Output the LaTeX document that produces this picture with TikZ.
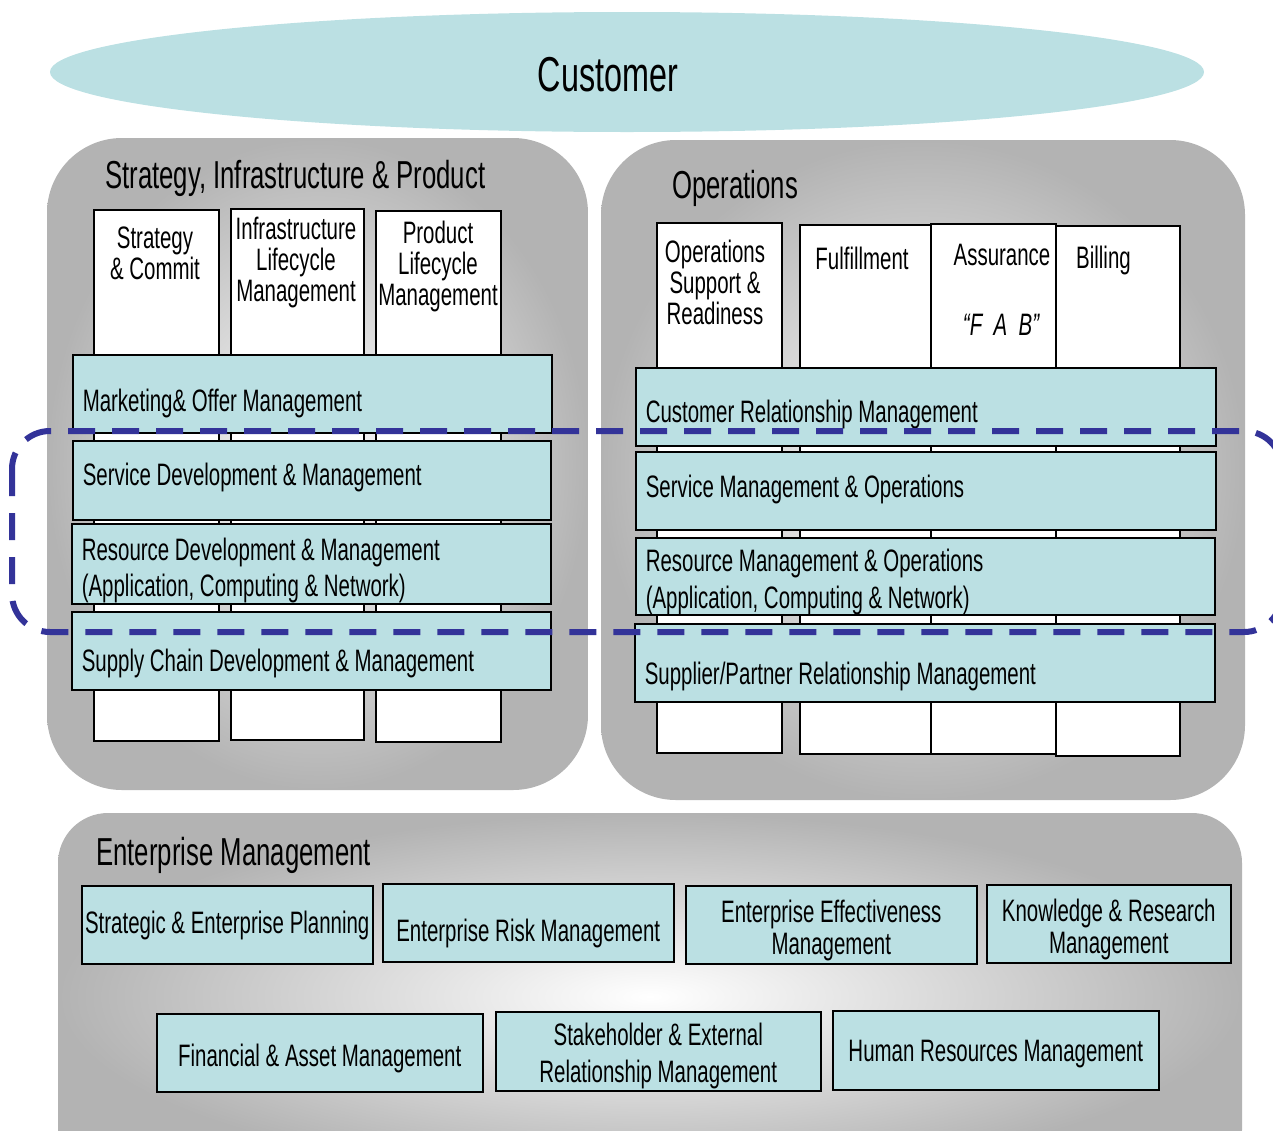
\documentclass[tikz,border=0pt]{standalone}
\usepackage{fontspec}
\setmainfont[FakeStretch=0.66]{Liberation Sans}
\usetikzlibrary{shapes.geometric}
\definecolor{tamcyan}{HTML}{BBE0E3}
\definecolor{tamblue}{HTML}{333399}
\definecolor{tamgray}{HTML}{B3B3B3}

\begin{document}
\begin{tikzpicture}[x=1pt,y=-1pt,
  panel/.style={rounded corners=#1,inner color=white,outer color=tamgray},
  panel/.default=75pt,
  paneltitle/.style={anchor=base west,inner sep=0pt,font=\fontsize{39}{39}\selectfont},
  col/.style={draw,line width=1.5pt,fill=white,anchor=north west,inner sep=0pt},
  col text/.style={anchor=north,align=center,inner sep=0pt,font=\fontsize{31}{31}\selectfont},
  bar/.style={draw,line width=1.5pt,fill=tamcyan,anchor=north west,align=flush left,inner xsep=10pt,inner ysep=0pt,font=\fontsize{31}{36}\selectfont},
  ent box/.style={draw,line width=1.5pt,fill=tamcyan,anchor=north west,align=center,inner sep=0pt,font=\fontsize{31}{37}\selectfont}]

  \useasboundingbox (0,0) rectangle (1273,1130);
  \clip (0,0) rectangle (1273,1130);

  % customer on top
  \node[ellipse,fill=tamcyan,minimum width=1154pt,minimum height=120pt] (cust) at (627,72) {};
  \node[font=\fontsize{49}{49}\selectfont,inner sep=0pt] (cust-t) at (608,75) {Customer};

  % the three panels
  \path[panel] (47,138) rectangle (588,790);
  \path[panel] (601,140) rectangle (1245,800);
  \path[panel=50pt] (58,813) rectangle (1242,1180);

  \node[paneltitle] (sip) at (105,188) {Strategy, Infrastructure \& Product};
  \node[paneltitle] (ops) at (672,198) {Operations};
  \node[paneltitle] (ent) at (96,865) {Enterprise Management};

  % SIP columns
  \node[col,minimum width=125pt,minimum height=531pt] (sc) at (93,209) {};
  \node[col,minimum width=133pt,minimum height=531pt] (ilm) at (230,208) {};
  \node[col,minimum width=125pt,minimum height=531pt] (plm) at (375,210) {};

  \node[col text] (sc-t) at (155,227) {Strategy\\\& Commit};
  \node[col text] (ilm-t) at (296,217) {Infrastructure\\Lifecycle\\Management};
  \node[col text] (plm-t) at (438,221) {Product\\Lifecycle\\Management};

  % SIP bars
  \node[bar,text width=459pt,minimum height=78pt,text height=43pt,text depth=7pt] (mko) at (72,354) {Marketing\& Offer Management};
  \node[bar,text width=458pt,minimum height=79pt,text height=17pt,text depth=7pt] (sdm) at (72,440) {Service Development \& Management};
  \node[bar,text width=459pt,minimum height=80pt,text height=37pt,text depth=43pt] (rdm) at (71,523) {Resource Development \& Management\\(Application, Computing \& Network)};
  \node[bar,text width=459pt,minimum height=78pt,text height=49pt,text depth=7pt] (scd) at (71,611) {Supply Chain Development \& Management};

  % operations columns
  \node[col,minimum width=125pt,minimum height=530pt] (osr) at (656,222) {};
  \node[col,minimum width=131pt,minimum height=529pt] (ful) at (799,224) {};
  \node[col,minimum width=125pt,minimum height=530pt] (asr) at (930,223) {};
  \node[col,minimum width=124pt,minimum height=530pt] (bil) at (1055,225) {};

  \node[col text] (osr-t) at (715,240) {Operations\\Support \&\\Readiness};
  \node[col text] (ful-t) at (862,247) {Fulfillment};
  \node[col text] (asr-t) at (1002,244) {Assurance};
  \node[col text] (fab-t) at (1001,314) {\itshape ``F\ \ A\ \ B''};
  \node[col text,anchor=north west] (bil-t) at (1076,246) {Billing};

  % operations bars
  \node[bar,text width=560pt,minimum height=78pt,text height=39pt,text depth=7pt] (crm) at (635,367) {Customer Relationship Management};
  \node[bar,text width=560pt,minimum height=78pt,text height=21pt,text depth=7pt] (smo) at (635,451) {Service Management \& Operations};
  \node[bar,text width=559pt,minimum height=77pt,font=\fontsize{31}{37}\selectfont,text height=34pt,text depth=43pt] (rmo) at (635,537) {Resource Management \& Operations\\(Application, Computing \& Network)};
  \node[bar,text width=560pt,minimum height=78pt,text height=51pt,text depth=7pt] (spr) at (634,623) {Supplier/Partner Relationship Management};

  % enterprise boxes
  \node[ent box,minimum width=291pt,minimum height=78pt,text height=25pt,text depth=7pt] (sep) at (81,885) {Strategic \& Enterprise Planning};
  \node[ent box,minimum width=291pt,minimum height=78pt,text height=45pt,text depth=7pt] (erm) at (382,883) {Enterprise Risk Management};
  \node[ent box,minimum width=291pt,minimum height=78pt,font=\fontsize{31}{32}\selectfont,text height=67pt,text depth=7pt] (eem) at (685,885) {Enterprise Effectiveness\\Management};
  \node[ent box,minimum width=244pt,minimum height=78pt,font=\fontsize{31}{32}\selectfont,text height=67pt,text depth=7pt] (krm) at (986,884) {Knowledge \& Research\\Management};
  \node[ent box,minimum width=326pt,minimum height=78pt,text height=35pt,text depth=7pt] (fam) at (156,1013) {Financial \& Asset Management};
  \node[ent box,minimum width=325pt,minimum height=79pt,text height=70pt,text depth=7pt] (sxr) at (495,1011) {Stakeholder \& External\\Relationship Management};
  \node[ent box,minimum width=326pt,minimum height=79pt,text height=30pt,text depth=7pt] (hrm) at (832,1010) {Human Resources Management};

  % dashed frame round service and resource layers
  \draw[tamblue,line width=6pt,dash pattern=on 27pt off 17pt,rounded corners=38pt] (12,431) rectangle (1282,632);
\end{tikzpicture}
\end{document}
